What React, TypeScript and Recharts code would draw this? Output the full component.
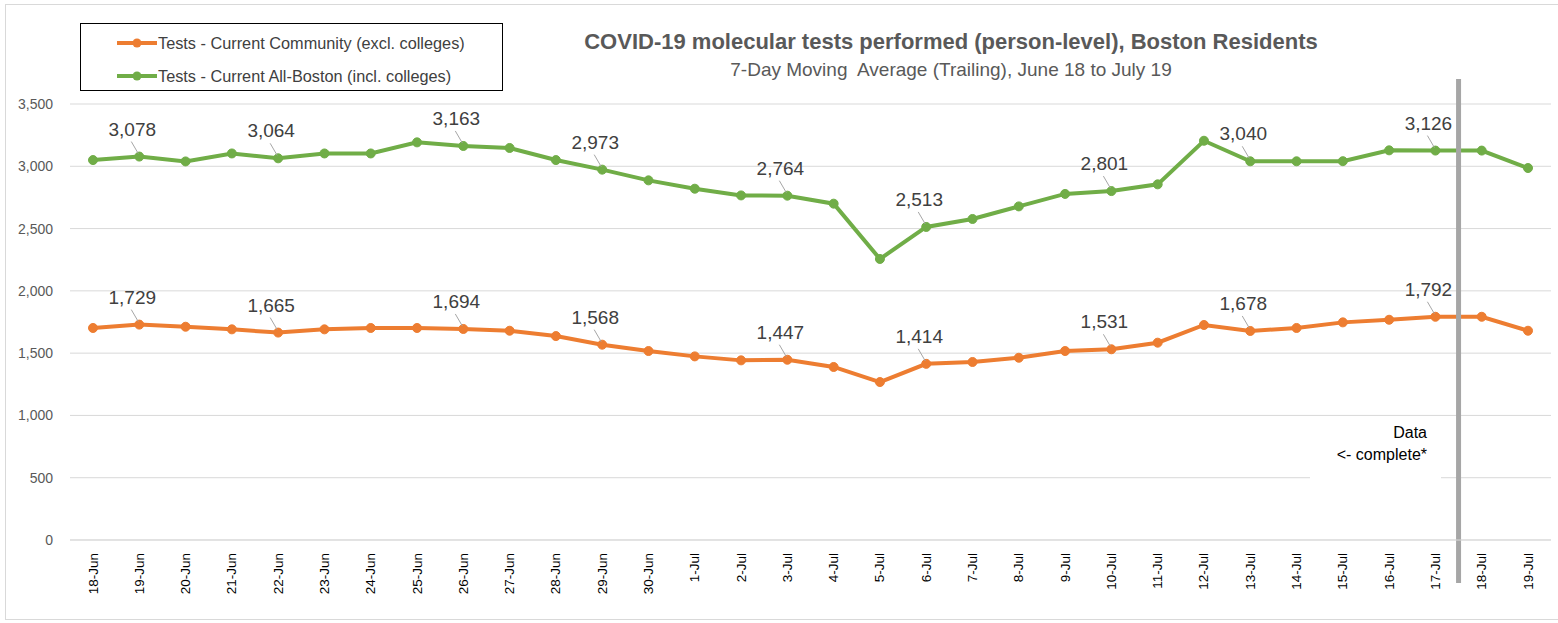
import { CartesianGrid, LabelList, Line, LineChart, ReferenceLine, XAxis, YAxis } from "recharts";

const days = [
  "18-Jun", "19-Jun", "20-Jun", "21-Jun", "22-Jun", "23-Jun", "24-Jun", "25-Jun",
  "26-Jun", "27-Jun", "28-Jun", "29-Jun", "30-Jun", "1-Jul", "2-Jul", "3-Jul",
  "4-Jul", "5-Jul", "6-Jul", "7-Jul", "8-Jul", "9-Jul", "10-Jul", "11-Jul",
  "12-Jul", "13-Jul", "14-Jul", "15-Jul", "16-Jul", "17-Jul", "18-Jul", "19-Jul",
];

const community = [
  1702, 1729, 1712, 1691, 1665, 1691, 1702, 1702, 1694, 1680, 1637, 1568, 1517, 1474, 1442, 1447,
  1389, 1268, 1414, 1429, 1463, 1517, 1531, 1584, 1726, 1678, 1702, 1747, 1768, 1792, 1792, 1680,
];

const allBoston = [
  3050, 3078, 3039, 3103, 3064, 3103, 3103, 3192, 3163, 3147, 3050, 2973, 2887, 2820, 2766, 2764,
  2700, 2256, 2513, 2577, 2678, 2778, 2801, 2855, 3205, 3040, 3040, 3041, 3128, 3126, 3126, 2986,
];

// days that carry a data label
const labeledDays = ["19-Jun", "22-Jun", "26-Jun", "29-Jun", "3-Jul", "6-Jul", "10-Jul", "13-Jul", "17-Jul"];

const yTicks = [0, 500, 1000, 1500, 2000, 2500, 3000, 3500];

// last day with complete data is 17-Jul; the marker sits halfway to the next day
const completeCutoff = days.indexOf("17-Jul") + 0.5;

const series = [
  { key: "community", name: "Tests - Current Community (excl. colleges)", color: "#ED7D31" },
  { key: "allBoston", name: "Tests - Current All-Boston (incl. colleges)", color: "#70AD47" },
];

const data = days.map((day, i) => ({ day, idx: i, community: community[i], allBoston: allBoston[i] }));

const FONT = '"Liberation Sans", Arial, sans-serif';
const fmt = (v: number) => v.toLocaleString("en-US");

function DateTick({ x, y, payload }: any) {
  return (
    <text
      x={x}
      y={y}
      transform={`rotate(-90, ${x}, ${y})`}
      textAnchor="end"
      dx={-13}
      dy={4.5}
      fontSize={13.5}
      fill="#000"
      fontFamily={FONT}
    >
      {payload.value}
    </text>
  );
}

function PointLabel(props: any) {
  const { x, y, value, index } = props;
  if (!labeledDays.includes(days[index])) return null;
  return (
    <g>
      <line x1={x - 8} y1={y - 15} x2={x - 1} y2={y - 3} stroke="#a6a6a6" strokeWidth={1} />
      <text x={x - 7} y={y - 21} textAnchor="middle" fontSize={19} fill="#404040" fontFamily={FONT}>
        {fmt(value)}
      </text>
    </g>
  );
}

export default function App() {
  return (
    <div
      style={{
        position: "absolute",
        left: 0,
        top: 0,
        width: 1558,
        height: 623,
        background: "#fff",
        fontFamily: FONT,
        overflow: "hidden",
      }}
    >
      <div
        style={{
          position: "absolute",
          left: 5,
          top: 4,
          width: 1570,
          height: 614,
          border: "1px solid #d9d9d9",
        }}
      />
      <LineChart
        width={1558}
        height={623}
        data={data}
        margin={{ top: 104, right: 7, bottom: 0, left: 0 }}
      >
        <CartesianGrid vertical={false} stroke="#d9d9d9" strokeWidth={1} />
        <XAxis
          dataKey="day"
          interval={0}
          height={83}
          padding={{ left: 23, right: 23 }}
          tickLine={false}
          tickSize={0}
          tickMargin={0}
          axisLine={{ stroke: "#d9d9d9" }}
          tick={<DateTick />}
        />
        <XAxis
          xAxisId="num"
          dataKey="idx"
          type="number"
          domain={[0, days.length - 1]}
          padding={{ left: 23, right: 23 }}
          hide
        />
        <YAxis
          domain={[0, 3500]}
          ticks={yTicks}
          width={70}
          axisLine={false}
          tickLine={false}
          tickSize={0}
          tickMargin={17}
          tickFormatter={(v) => fmt(Number(v))}
          tick={{ fill: "#595959", fontSize: 14, fontFamily: FONT }}
        />
        {series.map((s) => (
          <Line
            key={s.key}
            dataKey={s.key}
            name={s.name}
            stroke={s.color}
            strokeWidth={4}
            dot={{ r: 4.5, fill: s.color, stroke: s.color, strokeWidth: 1 }}
            activeDot={false}
            isAnimationActive={false}
          >
            <LabelList dataKey={s.key} content={<PointLabel />} />
          </Line>
        ))}
        <ReferenceLine
          xAxisId="num"
          segment={[
            { x: completeCutoff, y: -345 },
            { x: completeCutoff, y: 3700 },
          ]}
          stroke="#a6a6a6"
          strokeWidth={5}
          ifOverflow="visible"
        />
      </LineChart>

      <div
        style={{
          position: "absolute",
          left: 551,
          width: 800,
          top: 29,
          textAlign: "center",
          fontWeight: "bold",
          fontSize: 22,
          color: "#595959",
        }}
      >
        COVID-19 molecular tests performed (person-level), Boston Residents
      </div>
      <div
        style={{
          position: "absolute",
          left: 551,
          width: 800,
          top: 59,
          textAlign: "center",
          fontSize: 19,
          color: "#595959",
          whiteSpace: "pre",
        }}
      >
        {"7-Day Moving  Average (Trailing), June 18 to July 19"}
      </div>

      <div
        style={{
          position: "absolute",
          left: 80,
          top: 23,
          width: 421,
          height: 66,
          border: "1px solid #000",
          background: "#fff",
        }}
      >
        {series.map((s, i) => (
          <div
            key={s.key}
            style={{
              position: "absolute",
              left: 36,
              top: 9 + i * 33,
              height: 20,
              display: "flex",
              alignItems: "center",
              fontSize: 16.3,
              color: "#404040",
              whiteSpace: "nowrap",
            }}
          >
            <svg width={40} height={12} style={{ marginRight: 1 }}>
              <line x1={0} y1={6} x2={40} y2={6} stroke={s.color} strokeWidth={4} />
              <circle cx={20} cy={6} r={4.5} fill={s.color} />
            </svg>
            {s.name}
          </div>
        ))}
      </div>

      <div
        style={{
          position: "absolute",
          left: 1310,
          top: 422,
          width: 117,
          paddingRight: 14,
          height: 62,
          background: "#fff",
          textAlign: "right",
          fontSize: 16,
          lineHeight: "22px",
          color: "#000",
        }}
      >
        Data
        <br />
        {"<- complete*"}
      </div>
    </div>
  );
}
